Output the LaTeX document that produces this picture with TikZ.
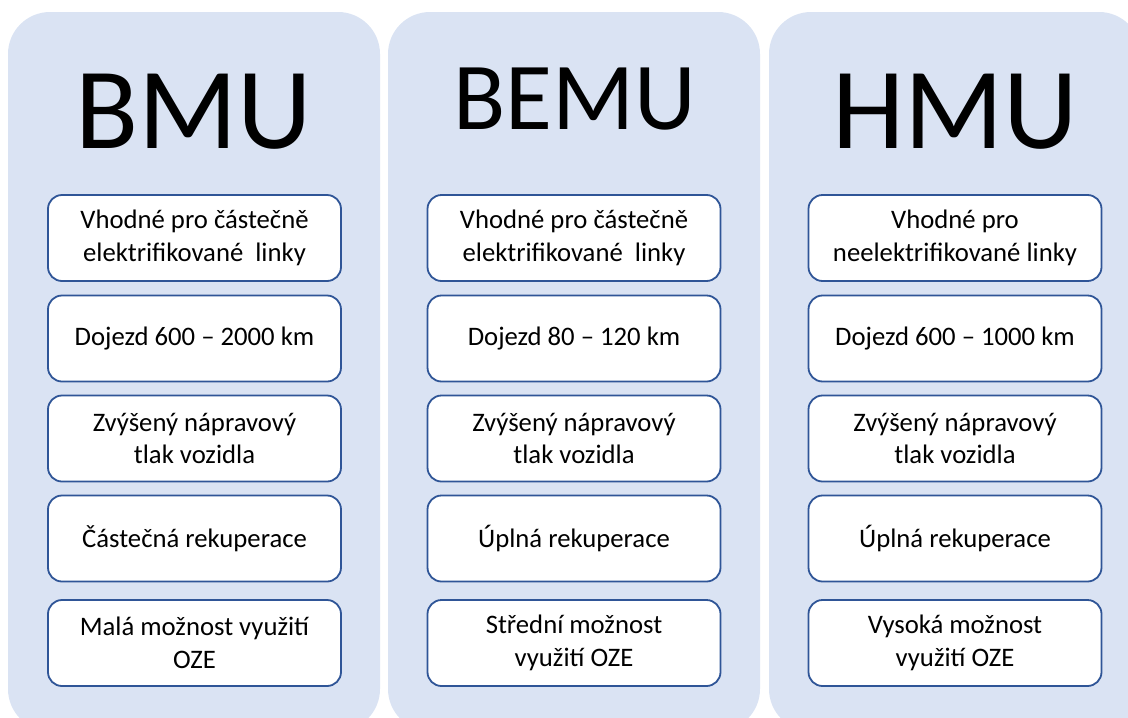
\documentclass[tikz,border=0pt]{standalone}
\usepackage{fontspec}
\setmainfont{Carlito}
\definecolor{panelfill}{HTML}{DAE3F3}
\definecolor{boxline}{HTML}{2F5597}
\begin{document}
\begin{tikzpicture}[x=1pt,y=-1pt,
  panel/.style={fill=panelfill, draw=none, rounded corners=42pt},
  itembox/.style={draw=boxline, fill=white, line width=1.8pt, rounded corners=14pt,
    minimum width=293pt, minimum height=86pt, align=center, inner sep=2pt,
    font=\fontsize{26.7}{32.5}\selectfont},
  bigtitle/.style={anchor=base, inner sep=0pt, font=\fontsize{116}{120}\selectfont},
  midtitle/.style={anchor=base, inner sep=0pt, font=\fontsize{96}{100}\selectfont}]
\useasboundingbox (0,0) rectangle (1128,718);
\clip (0,0) rectangle (1128,718);
% panels
\fill[panel] (8,12) rectangle (380,731);
\fill[panel] (388,12) rectangle (760,731);
\fill[panel] (769,12) rectangle (1141,731);
% titles
\node[bigtitle] (t1) at (194,148) {BMU};
\node[midtitle] (t2) at (574.5,129) {BEMU};
\node[bigtitle] (t3) at (955,148) {HMU};
% column 1
\node[itembox] (a1) at (194.5,238) {Vhodné pro částečně\\elektrifikované\ \ linky};
\node[itembox] (a2) at (194.5,338.5) {Dojezd 600 – 2000 km};
\node[itembox] (a3) at (194.5,438.5) {Zvýšený nápravový\\tlak vozidla};
\node[itembox] (a4) at (194.5,538.5) {Částečná rekuperace};
\node[itembox] (a5) at (194.5,643) {Malá možnost využití\\OZE};
% column 2
\node[itembox] (b1) at (574,238) {Vhodné pro částečně\\elektrifikované\ \ linky};
\node[itembox] (b2) at (574,338.5) {Dojezd 80 – 120 km};
\node[itembox] (b3) at (574,438.5) {Zvýšený nápravový\\tlak vozidla};
\node[itembox] (b4) at (574,538.5) {Úplná rekuperace};
\node[itembox] (b5) at (574,643) {Střední možnost\\využití OZE};
% column 3
\node[itembox] (c1) at (955,238) {Vhodné pro\\neelektrifikované linky};
\node[itembox] (c2) at (955,338.5) {Dojezd 600 – 1000 km};
\node[itembox] (c3) at (955,438.5) {Zvýšený nápravový\\tlak vozidla};
\node[itembox] (c4) at (955,538.5) {Úplná rekuperace};
\node[itembox] (c5) at (955,643) {Vysoká možnost\\využití OZE};
\end{tikzpicture}
\end{document}
